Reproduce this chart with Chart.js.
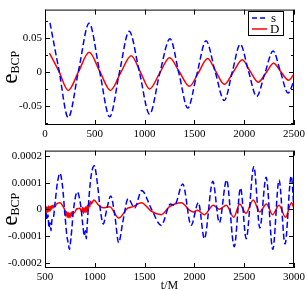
<!DOCTYPE html>
<html>
<head>
<meta charset="utf-8">
<script src="https://cdn.jsdelivr.net/npm/chart.js@4.4.1/dist/chart.umd.min.js"></script>
<style>
  html, body { margin: 0; padding: 0; background: #fff; }
  #wrap { position: relative; width: 308px; height: 291px; }
  canvas { position: absolute; left: 0; }
  #top { top: 0; }
  #bot { top: 141px; }
</style>
</head>
<body>
<div id="wrap">
  <canvas id="top" width="308" height="141"></canvas>
  <canvas id="bot" width="308" height="150"></canvas>
</div>
<script>
const SERIES_LABELS = ['s', 'D'];
const X_TITLE = 't/M';

// ─── Top panel ────────────────────────────────────────────────
const TOP_X_TICKS = [0, 500, 1000, 1500, 2000, 2500];
const TOP_Y_TICKS = [-0.05, 0, 0.05];
const TOP_Y_LABELS = ['-0.05', '0', '0.05'];
const TOP_Y_MINOR = [-0.075, -0.025, 0.025, 0.075];

const TOP_S_T = [50, 140, 233, 338, 443, 547, 650, 748, 845, 948, 1050, 1152, 1255, 1345, 1433, 1525, 1617, 1708, 1800, 1880, 1960, 2042, 2125, 2207, 2290, 2365, 2440, 2500];
const TOP_S_V = [0.0726, 0.003, -0.067, 0.003, 0.072, 0.002, -0.066, 0.0, 0.060, 0.0, -0.062, -0.002, 0.049, -0.002, -0.053, -0.003, 0.046, 0.001, -0.042, 0.0, 0.041, 0.002, -0.036, -0.002, 0.031, 0.0, -0.031, -0.013];

const TOP_D_T = [45, 140, 233, 338, 443, 550, 657, 760, 865, 958, 1050, 1150, 1250, 1350, 1450, 1540, 1633, 1715, 1800, 1890, 1980, 2060, 2140, 2220, 2295, 2370, 2445, 2500];
const TOP_D_V = [0.028, 0.001, -0.027, 0.001, 0.029, 0.001, -0.027, -0.001, 0.024, 0.0, -0.025, -0.002, 0.021, 0.0, -0.021, -0.001, 0.020, 0.001, -0.018, 0.0, 0.018, 0.001, -0.015, -0.001, 0.013, 0.0, -0.012, -0.003];

// ─── Bottom panel ─────────────────────────────────────────────
const BOT_X_TICKS = [500, 1000, 1500, 2000, 2500, 3000];
const BOT_Y_TICKS = [-0.0002, -0.0001, 0, 0.0001, 0.0002];
const BOT_Y_LABELS = ['-0.0002', '-0.0001', '0', '0.0001', '0.0002'];

const BOT_S_T = [500, 510, 520, 530, 540, 550, 560, 570, 585, 600, 625, 650, 675, 700, 720, 735, 745, 760, 790, 825, 860, 880, 895, 905, 915, 925, 945, 965, 995, 1025, 1055, 1085, 1120, 1160, 1200, 1240, 1280, 1335, 1400, 1470, 1570, 1667, 1760, 1800, 1883, 1967, 2040, 2100, 2185, 2250, 2323, 2400, 2463, 2520, 2597, 2657, 2720, 2787, 2850, 2910, 2972, 3000];
const BOT_S_V = [0.00002, -0.00001, -0.00004, -0.00002, -0.00007, -0.00005, -0.00008, -0.00004, -0.00003, 0.00002, 0.0001, 0.000135, 0.00009, -0.00002, -0.0001, -0.00013, -0.00015, -0.00011, 0.00001, 0.000065, 0.00001, -0.00006, -0.0001, -0.00008, -0.00011, -0.00005, 0.00006, 0.00013, 0.000163, 0.0001, 0.0, -0.000055, 0.0, 0.00005, -0.00002, -0.000125, -0.00005, 0.00004, 0.000005, 0.00007, 0.0, -0.00006, 0.00002, 0.000015, 0.000095, -0.00006, 0.000025, -0.00011, 0.000105, -0.00005, 0.00011, -0.00014, 0.00008, -0.00011, 0.00016, -0.00007, 0.00012, -0.00015, 0.00011, -0.00013, 0.000125, 0.0];

const BOT_D_T = [500, 506, 512, 518, 524, 530, 536, 542, 548, 554, 560, 566, 572, 580, 590, 600, 615, 650, 690, 700, 708, 716, 724, 732, 740, 748, 756, 764, 772, 780, 790, 820, 850, 870, 878, 886, 894, 902, 910, 918, 926, 934, 942, 950, 958, 966, 990, 1040, 1085, 1150, 1240, 1330, 1385, 1467, 1570, 1667, 1750, 1870, 1950, 1990, 2030, 2100, 2190, 2250, 2320, 2395, 2455, 2517, 2590, 2657, 2723, 2785, 2850, 2915, 2975, 3000];
const BOT_D_V = [0.000005, -0.00001, 0.00001, -0.000012, 0.000008, -0.00001, 0.000012, -0.000008, 0.00001, -0.000005, 0.000012, 0.0, 0.000015, 0.000005, 0.000015, 0.00001, 0.00002, 0.000025, 0.000005, -0.000005, -0.000025, -0.000008, -0.00003, -0.000012, -0.000032, -0.000015, -0.00003, -0.00001, -0.000025, -0.000008, -0.000015, 0.000002, 0.000004, -0.00001, 0.000008, -0.000015, 0.000005, -0.000012, 0.00001, -0.00001, 0.000015, -0.000002, 0.000025, 0.00001, 0.00003, 0.00002, 0.000035, 0.000015, 0.000006, 0.00001, -0.000033, 0.000004, 0.00001, 0.000025, -0.000008, -0.00002, 0.00001, 0.000025, -0.000003, -0.00001, -0.000004, -0.00002, 0.000015, 0.0, 0.000015, -0.00003, 0.00002, -0.000015, 0.000035, -0.00001, 0.00002, -0.00002, 0.000015, -0.00003, 0.000025, 0.000002];

const SERIF = "'Liberation Serif', 'Times New Roman', serif";
Chart.defaults.font.family = SERIF;
Chart.defaults.font.size = 11;
Chart.defaults.color = '#000';

const pts = (t, v) => t.map((x, i) => ({ x, y: v[i] }));

// frame box, inward ticks, y title with subscript, legend, x title
const panelFrame = {
    id: 'panelFrame',
    afterDatasetsDraw(chart, args, o) {
        const { ctx, chartArea: a, scales: { x, y } } = chart;
        ctx.save();
        ctx.strokeStyle = '#000';
        ctx.lineWidth = 1;
        ctx.strokeRect(a.left + 0.5, a.top + 0.5, a.width - 1, a.height - 1);

        ctx.beginPath();
        for (const t of x.ticks) {
            const px = Math.round(x.getPixelForValue(t.value)) + 0.5;
            ctx.moveTo(px, a.bottom); ctx.lineTo(px, a.bottom - 5);
            ctx.moveTo(px, a.top); ctx.lineTo(px, a.top + 5);
        }
        const yt = y.ticks.map(t => [t.value, 5]).concat((o.yMinor || []).map(v => [v, 3]));
        for (const [v, len] of yt) {
            const py = Math.round(y.getPixelForValue(v)) + 0.5;
            ctx.moveTo(a.left, py); ctx.lineTo(a.left + len, py);
            ctx.moveTo(a.right, py); ctx.lineTo(a.right - len, py);
        }
        ctx.stroke();

        // y title: e_BCP
        ctx.save();
        ctx.translate(16.5, (a.top + a.bottom) / 2);
        ctx.rotate(-Math.PI / 2);
        ctx.fillStyle = '#000';
        ctx.textBaseline = 'alphabetic';
        ctx.textAlign = 'left';
        ctx.font = '23px ' + SERIF;
        const we = ctx.measureText('e').width;
        ctx.font = '12px ' + SERIF;
        const ws = ctx.measureText('BCP').width;
        const start = -(we + ws) / 2;
        ctx.font = '23px ' + SERIF;
        ctx.fillText('e', start, 0);
        ctx.font = '12px ' + SERIF;
        ctx.fillText('BCP', start + we, 2);
        ctx.restore();

        if (o.legend) {
            ctx.fillStyle = '#fff';
            ctx.fillRect(248.5, 11.5, 35, 24);
            ctx.strokeStyle = '#000';
            ctx.lineWidth = 1;
            ctx.strokeRect(248.5, 11.5, 35, 24);
            ctx.lineWidth = 1.5;
            ctx.strokeStyle = '#0000ff';
            ctx.setLineDash([5, 3]);
            ctx.beginPath(); ctx.moveTo(252, 18); ctx.lineTo(267, 18); ctx.stroke();
            ctx.setLineDash([]);
            ctx.strokeStyle = '#ff0000';
            ctx.beginPath(); ctx.moveTo(252, 29); ctx.lineTo(267, 29); ctx.stroke();
            ctx.fillStyle = '#000';
            ctx.font = '13px ' + SERIF;
            ctx.fillText(SERIES_LABELS[0], 271, 22);
            ctx.fillText(SERIES_LABELS[1], 270, 33);
        }

        if (o.xTitle) {
            ctx.fillStyle = '#000';
            ctx.font = '12px ' + SERIF;
            ctx.textAlign = 'center';
            ctx.fillText(o.xTitle, (a.left + a.right) / 2, chart.height - 2);
        }
        ctx.restore();
    }
};

function makePanel(id, cfg) {
    return new Chart(document.getElementById(id), {
        type: 'line',
        data: {
            datasets: [
                {
                    label: SERIES_LABELS[0], data: cfg.s,
                    borderColor: '#0000ff', borderWidth: 1.5, borderDash: [6, 3],
                    pointRadius: 0, fill: false, cubicInterpolationMode: 'monotone'
                },
                {
                    label: SERIES_LABELS[1], data: cfg.d,
                    borderColor: '#ff0000', borderWidth: 1.5,
                    pointRadius: 0, fill: false, cubicInterpolationMode: 'monotone'
                }
            ]
        },
        options: {
            responsive: false,
            animation: false,
            events: [],
            layout: { padding: { top: cfg.padTop, right: 12, left: 0, bottom: 0 } },
            scales: {
                x: {
                    type: 'linear', min: cfg.xMin, max: cfg.xMax,
                    grid: { display: false, drawTicks: false },
                    border: { display: false },
                    afterBuildTicks: s => { s.ticks = cfg.xTicks.map(v => ({ value: v })); },
                    afterFit: s => { s.height = cfg.xHeight; },
                    ticks: { padding: 3, maxRotation: 0, autoSkip: false, callback: v => String(v) }
                },
                y: {
                    min: cfg.yMin, max: cfg.yMax,
                    grid: { display: false, drawTicks: false },
                    border: { display: false },
                    afterBuildTicks: s => { s.ticks = cfg.yTicks.map(v => ({ value: v })); },
                    afterFit: s => { s.width = 45; },
                    ticks: {
                        padding: 3, autoSkip: false,
                        callback: (v, i) => cfg.yLabels[cfg.yTicks.indexOf(v)] ?? ''
                    }
                }
            },
            plugins: {
                legend: { display: false },
                tooltip: { enabled: false },
                panelFrame: { yMinor: cfg.yMinor, legend: cfg.legend, xTitle: cfg.xTitle }
            }
        },
        plugins: [panelFrame]
    });
}

makePanel('top', {
    s: pts(TOP_S_T, TOP_S_V), d: pts(TOP_D_T, TOP_D_V),
    xMin: 0, xMax: 2500, xTicks: TOP_X_TICKS,
    yMin: -0.078, yMax: 0.092, yTicks: TOP_Y_TICKS, yLabels: TOP_Y_LABELS, yMinor: TOP_Y_MINOR,
    padTop: 1, xHeight: 16, legend: true
});

makePanel('bot', {
    s: pts(BOT_S_T, BOT_S_V), d: pts(BOT_D_T, BOT_D_V),
    xMin: 500, xMax: 3000, xTicks: BOT_X_TICKS,
    yMin: -0.00022, yMax: 0.00022, yTicks: BOT_Y_TICKS, yLabels: BOT_Y_LABELS, yMinor: [],
    padTop: 2, xHeight: 23, xTitle: X_TITLE
});
</script>
</body>
</html>
